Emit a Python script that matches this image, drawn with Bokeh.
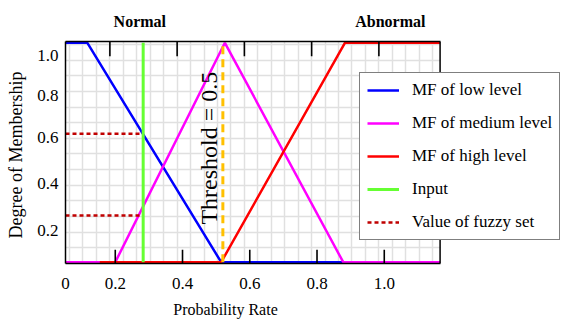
import numpy as np
from bokeh.plotting import figure
from bokeh.models import (Range1d, FixedTicker, LinearAxis, Legend, LegendItem, Label,
                          Span, Grid, BoxAnnotation)
from bokeh.embed import file_html
from bokeh.resources import INLINE

# ---- data ----
x_start, x_end = 0.052, 1.166
low_x = [0.052, 0.117, 0.515, 0.878]
low_y = [1, 1, 0, 0]
med_x = [0.052, 0.2, 0.526, 0.878, 1.166]
med_y = [0, 0, 1, 0, 0]
high_x = [0.154, 0.515, 0.883, 1.166]
high_y = [0, 0, 1, 1]
input_x = 0.283
fuzzy_values = [0.585, 0.213]
threshold_x = 0.52

x_tick_labels = ["0", "0.2", "0.4", "0.6", "0.8", "1.0"]
x_tick_at = [0.052, 0.2, 0.4, 0.6, 0.8, 1.0]
top_tick_at = [0.184, 0.384, 0.584, 0.784, 0.984]
y_tick_labels = ["1.0", "0.8", "0.6", "0.4", "0.2"]
y_tick_at = [0.941, 0.759, 0.570, 0.357, 0.146]

zone_labels = ["Normal", "Abnormal"]
zone_at = [0.273, 1.018]
x_title, x_title_at = "Probability Rate", 0.528
y_title, y_title_at = "Degree of Membership", 0.489
threshold_text = "Threshold = 0.5"

legend_labels = ["MF of low level", "MF of medium level", "MF of high level",
                 "Input", "Value of fuzzy set"]

FONT = "Liberation Serif"
W, H = 565, 320
LEFT, TOP, FRAME_H = 65, 41, 227
PX_PER_X = 336.25
PX_PER_Y = 224.3
y_lo, y_hi = -0.006, 1.006
view_end = x_start + (W - LEFT) / PX_PER_X
TICK_LEN = 14

p = figure(width=W, height=H, output_backend="svg", toolbar_location=None,
           x_range=Range1d(x_start, view_end), y_range=Range1d(y_lo, y_hi),
           min_border_left=LEFT, min_border_right=0, min_border_top=TOP,
           min_border_bottom=H - TOP - FRAME_H, x_axis_type=None, y_axis_type=None)

p.outline_line_color = None
p.background_fill_color = "white"


def plain(ax):
    ax.major_tick_in = 0
    ax.major_tick_out = 0
    ax.minor_tick_in = 0
    ax.minor_tick_out = 0
    ax.major_label_text_color = "black"
    ax.major_label_text_font = FONT


# ---- grid (light gray, only within the plotting area) ----
vgrid = Grid(dimension=0, ticker=FixedTicker(ticks=list(np.arange(0.184 - 0.04 * 3, 1.15, 0.04))),
             grid_line_color="#e0e0e0", grid_line_width=1.5)
hgrid = Grid(dimension=1, ticker=FixedTicker(ticks=list(y_lo + 16 / PX_PER_Y * np.arange(1, 15))),
             grid_line_color="#e0e0e0", grid_line_width=1.5)
p.add_layout(vgrid)
p.add_layout(hgrid)
if "cross_bounds" in Grid.properties():
    hgrid.cross_bounds = (x_start, x_end)
else:
    p.add_layout(BoxAnnotation(left=x_end, fill_color="white", fill_alpha=1.0,
                               line_color=None, level="underlay"))

# ---- axes ----
xa = LinearAxis(ticker=FixedTicker(ticks=x_tick_at), bounds=(x_start, x_end),
                major_label_overrides={t: l for t, l in zip(x_tick_at, x_tick_labels)})
plain(xa)
xa.axis_line_width = 1.5
xa.major_label_text_font_size = "17px"
xa.major_label_standoff = 14
p.add_layout(xa, "below")

xt = LinearAxis(ticker=FixedTicker(ticks=[x_title_at]),
                major_label_overrides={x_title_at: x_title})
plain(xt)
xt.axis_line_color = None
xt.major_label_text_font_size = "16px"
xt.major_label_standoff = 9
p.add_layout(xt, "below")

ta = LinearAxis(ticker=FixedTicker(ticks=zone_at), bounds=(x_start, x_end),
                major_label_overrides={t: l for t, l in zip(zone_at, zone_labels)})
plain(ta)
ta.axis_line_width = 1.5
ta.major_label_text_font_size = "16px"
ta.major_label_text_font_style = "bold"
ta.major_label_standoff = 12
p.add_layout(ta, "above")

ya = LinearAxis(ticker=FixedTicker(ticks=y_tick_at),
                major_label_overrides={t: l for t, l in zip(y_tick_at, y_tick_labels)})
plain(ya)
ya.axis_line_width = 1.5
ya.major_label_text_font_size = "17px"
ya.major_label_standoff = 7
p.add_layout(ya, "left")

yt = LinearAxis(ticker=FixedTicker(ticks=[y_title_at]),
                major_label_overrides={y_title_at: y_title},
                major_label_orientation="vertical")
plain(yt)
yt.axis_line_color = None
yt.major_label_text_font_size = "18px"
yt.major_label_standoff = 8
p.add_layout(yt, "left")

# inward tick marks (bottom and top) as thin black boxes
HALF_W = 0.8 / PX_PER_X
TLEN = TICK_LEN / PX_PER_Y
for t in x_tick_at[1:]:
    p.add_layout(BoxAnnotation(left=t - HALF_W, right=t + HALF_W, bottom=y_lo, top=y_lo + TLEN,
                               fill_color="black", fill_alpha=1.0, line_color=None,
                               level="overlay"))
for t in top_tick_at:
    p.add_layout(BoxAnnotation(left=t - HALF_W, right=t + HALF_W, bottom=y_hi - TLEN - 1 / PX_PER_Y,
                               top=y_hi, fill_color="black", fill_alpha=1.0, line_color=None,
                               level="overlay"))

# right border of plotting area
p.add_layout(Span(location=x_end, dimension="height", line_color="black",
                  line_width=1.5))

# ---- membership functions ----
r_low = p.line(low_x, low_y, line_color="#0000ff", line_width=2.5)
r_med = p.line(med_x, med_y, line_color="#ff00ff", line_width=2.5)
r_high = p.line(high_x, high_y, line_color="#ff0000", line_width=2.5)

# fuzzy values
r_fz = p.segment(x0=[x_start] * len(fuzzy_values), y0=fuzzy_values,
                 x1=[input_x] * len(fuzzy_values), y1=fuzzy_values,
                 line_color="#c00000", line_width=2.5, line_dash="4 3")

# input
r_in = p.segment(x0=[input_x], y0=[0], x1=[input_x], y1=[1],
                 line_color="#66ff33", line_width=3)

# threshold
p.segment(x0=[threshold_x], y0=[0], x1=[threshold_x], y1=[1],
          line_color="#ffc000", line_width=3, line_dash="8 5")

p.add_layout(Label(x=0.48, y=0.52, text=threshold_text, angle=np.pi / 2,
                   text_align="center", text_baseline="middle",
                   text_font=FONT, text_font_size="24px", text_color="black"))

legend = Legend(items=[
    LegendItem(label=legend_labels[0], renderers=[r_low]),
    LegendItem(label=legend_labels[1], renderers=[r_med]),
    LegendItem(label=legend_labels[2], renderers=[r_high]),
    LegendItem(label=legend_labels[3], renderers=[r_in]),
    LegendItem(label=legend_labels[4], renderers=[r_fz]),
], location=(294, 23))
legend.label_text_font = FONT
legend.label_text_font_size = "17px"
legend.label_text_color = "black"
legend.glyph_width = 32
legend.glyph_height = 18
legend.label_height = 18
legend.spacing = 13
legend.padding = 7
legend.margin = 0
legend.label_standoff = 13
legend.border_line_color = "black"
legend.border_line_width = 1.5
legend.background_fill_color = "white"
legend.background_fill_alpha = 1.0
p.add_layout(legend, "center")

open("out.html", "w").write(file_html(p, INLINE))
